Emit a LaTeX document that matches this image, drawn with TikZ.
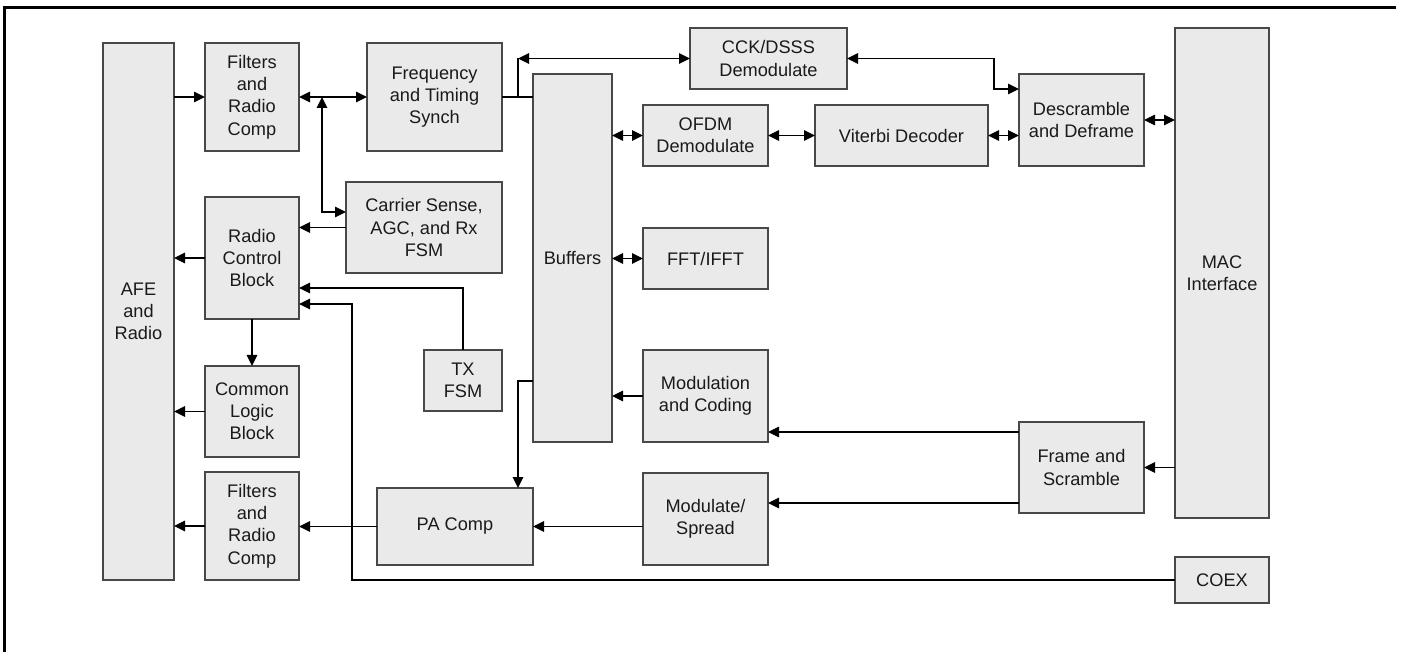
\documentclass[tikz,border=0pt]{standalone}
\usepackage{fontspec}
\setmainfont{Liberation Sans}
\usetikzlibrary{arrows.meta}
\definecolor{boxfill}{HTML}{EAEAEA}
\definecolor{boxline}{HTML}{484848}
\definecolor{txt}{HTML}{1A1A1A}
\newcommand\mybx[6]{\node[box, minimum width={#4-#2}, minimum height={#5-#3}] (#1) at ({(#2+#4)/2},{(#3+#5)/2}) {#6};}
\tikzset{
  box/.style={draw=boxline, fill=boxfill, line width=1.4pt, inner sep=0pt, outer sep=0pt, align=center, text=txt, font=\fontsize{18.2}{22.2}\selectfont},
  conn/.style={line width=1.3pt, draw=black},
  arr/.style={conn, -{Triangle[length=11pt,width=10.5pt]}},
  arrb/.style={conn, {Triangle[length=11pt,width=10.5pt]}-{Triangle[length=11pt,width=10.5pt]}},
}
\begin{document}
\begin{tikzpicture}[x=1pt,y=-1pt]
\useasboundingbox (0,0) rectangle (1401,652);
\draw[line width=3pt] (1396,8) -- (4,8) -- (4,652);
\mybx{AFE}{103}{43}{174}{580}{AFE\\and\\Radio}
\mybx{F1}{205}{43}{299}{151}{Filters\\and\\Radio\\Comp}
\mybx{FTS}{367}{43}{502}{151}{Frequency\\and Timing\\Synch}
\mybx{CS}{346}{182}{502}{273}{Carrier Sense,\\AGC, and Rx\\FSM}
\mybx{RC}{205}{197}{299}{319}{Radio\\Control\\Block}
\mybx{CL}{205}{366}{299}{457}{Common\\Logic\\Block}
\mybx{F2}{205}{472}{299}{580}{Filters\\and\\Radio\\Comp}
\mybx{TX}{424}{350}{502}{411}{TX\\FSM}
\mybx{PA}{377}{488}{533}{565}{PA Comp}
\mybx{CCK}{690}{28}{847}{89}{CCK/DSSS\\Demodulate}
\mybx{BUF}{533}{74}{612}{442}{Buffers}
\mybx{OFDM}{643}{105}{768}{166}{OFDM\\Demodulate}
\mybx{FFT}{643}{228}{768}{289}{FFT/IFFT}
\mybx{MC}{643}{350}{768}{442}{Modulation\\and Coding}
\mybx{MS}{643}{473}{768}{565}{Modulate/\\Spread}
\mybx{VIT}{815}{105}{988}{166}{Viterbi Decoder}
\mybx{DD}{1019}{74}{1144}{166}{Descramble\\and Deframe}
\mybx{FS}{1019}{422}{1144}{513}{Frame and\\Scramble}
\mybx{MAC}{1175}{28}{1269}{518}{MAC\\Interface}
\mybx{COEX}{1175}{557}{1269}{603}{COEX}
% coordinates
\coordinate (j1) at (322,97);
\coordinate (j2) at (322,212);
\coordinate (j3) at (518,97);
\coordinate (j4) at (518,58.5);
\coordinate (k1) at (994,89);
\coordinate (fs1) at ([yshift=35.5pt]FS.west);
\coordinate (fs2) at ([yshift=-35.5pt]FS.west);
% connectors left
\draw[arr] (AFE.east |- F1.west) -- (F1.west);
\draw[arrb] (F1.east) -- (FTS.west);
\draw[arrb] (j1) -- (j2) -- (CS.west |- j2);
\draw[arr] (CS.west) -- (RC.east |- CS.west);
\draw[arr] (RC.west) -- (AFE.east |- RC.west);
\draw[arr] (RC.south) -- (CL.north);
\draw[arr] (CL.west) -- (AFE.east |- CL.west);
\draw[arr] (F2.west) -- (AFE.east |- F2.west);
\draw[arr] (TX.north) |- ([yshift=-30pt]RC.east);
\draw[arr] (COEX.west) -| (352,304) -- ([yshift=-46pt]RC.east);
% middle
\draw[conn] (FTS.east) -- (BUF.west |- FTS.east);
\draw[conn] (j3) -- (j4);
\draw[arrb] (j4) -- (CCK.west);
\draw[arrb] (CCK.east) -| (k1) -- (DD.west |- k1);
\draw[arrb] (BUF.east |- OFDM.west) -- (OFDM.west);
\draw[arrb] (OFDM.east) -- (VIT.west);
\draw[arrb] (VIT.east) -- (DD.west |- VIT.east);
\draw[arrb] (DD.east) -- (MAC.west |- DD.east);
\draw[arrb] (BUF.east |- FFT.west) -- (FFT.west);
\draw[arr] (MC.west) -- (BUF.east |- MC.west);
\draw[arr] (MAC.west |- FS.east) -- (FS.east);
\draw[arr] (fs1) -- (MC.east |- fs1);
\draw[arr] (fs2) -- (MS.east |- fs2);
\draw[arr] (MS.west |- PA.east) -- (PA.east);
\draw[arr] (PA.west) -- (F2.east |- PA.west);
\draw[arr] ([yshift=-123pt]BUF.west) -| ([xshift=63pt]PA.north);
\end{tikzpicture}
\end{document}
